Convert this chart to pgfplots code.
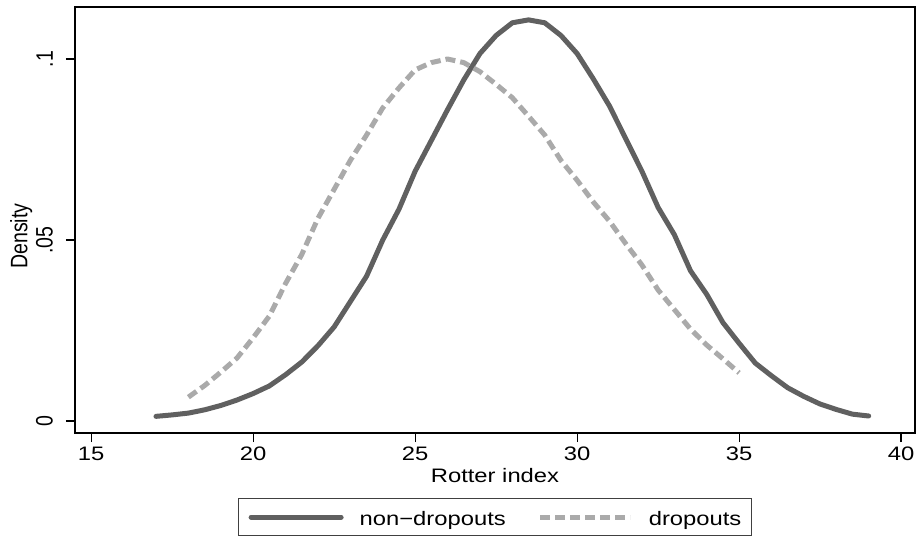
\documentclass[border=0pt]{standalone}
\usepackage{pgfplots}
\pgfplotsset{compat=1.18}
\usepackage{fontspec}
\setmainfont[FakeStretch=1.22]{Liberation Sans}
\newfontfamily\rotfont[FakeStretch=0.82]{Liberation Sans}
\newcommand\normfont{\fontsize{19.5}{23}\selectfont}
\newcommand\rfont{\rotfont\fontsize{23.8}{28}\selectfont}
\definecolor{dk}{RGB}{96,96,96}
\definecolor{lt}{RGB}{170,170,170}
\begin{document}
\begin{tikzpicture}
\path[use as bounding box] (-75pt,-103pt) rectangle (841pt,433pt);
\begin{axis}[
  at={(0pt,0pt)}, anchor=south west,
  scale only axis, width=840pt, height=426pt,
  xmin=14.5, xmax=40.43, ymin=-0.0033, ymax=0.11436,
  xtick={15,20,25,30,35,40},
  ytick={0,0.05,0.1}, yticklabels={0,.05,.1},
  xtick pos=bottom, ytick pos=left,
  tick align=outside, major tick length=9pt,
  tick style={line width=1.2pt, black},
  axis line style={line width=1.5pt, black},
  /pgf/number format/assume math mode=true,
  xticklabel style={font=\normfont, anchor=north, inner xsep=0pt, inner ysep=5pt},
  yticklabel style={font=\rfont, rotate=90, anchor=south, inner xsep=0pt, inner ysep=13pt},
  xlabel={Rotter index}, ylabel={Density},
  xlabel style={font=\normfont, at={(axis description cs:0.5,-0.0822)}, anchor=north, inner sep=0pt},
  ylabel style={font=\rfont, at={(axis description cs:-0.0774,0.4624)}, anchor=north, rotate=0, inner sep=0pt},
  legend columns=2,
  legend style={at={(axis description cs:0.5,-0.1526)}, anchor=north,
    draw=black!75, line width=1.2pt, inner xsep=10pt, inner ysep=6.5pt,
    font=\normfont,
    nodes={inner sep=0pt, text height=20pt, text depth=4pt, anchor=base west},
    /tikz/every odd column/.append style={column sep=16pt},
    /tikz/every even column/.append style={column sep=32pt}},
  legend image code/.code={\draw[#1] (0pt,8pt) -- (90pt,8pt);},
]
\addplot[dk, line width=5pt, line join=round, line cap=round] coordinates {
(17.0,0.0013) (17.5,0.0017) (18.0,0.0022) (18.5,0.0031) (19.0,0.0043)
(19.5,0.0058) (20.0,0.0076) (20.5,0.0097) (21.0,0.0128) (21.5,0.0163)
(22.0,0.0208) (22.5,0.0260) (23.0,0.0330) (23.5,0.0400) (24.0,0.0500)
(24.5,0.0585) (25.0,0.0690) (25.5,0.0775) (26.0,0.0860) (26.5,0.0942)
(27.0,0.1015) (27.5,0.1065) (28.0,0.1100) (28.5,0.1108) (29.0,0.1100)
(29.5,0.1065) (30.0,0.1015) (30.5,0.0945) (31.0,0.0870) (31.5,0.0780)
(32.0,0.0690) (32.5,0.0590) (33.0,0.0515) (33.5,0.0415) (34.0,0.0350)
(34.5,0.0272) (35.0,0.0215) (35.5,0.0160) (36.0,0.0125) (36.5,0.0092)
(37.0,0.0068) (37.5,0.0047) (38.0,0.0032) (38.5,0.0019) (39.0,0.0014)
};
\addlegendentry{non−dropouts}
\addplot[lt, line width=5pt, line join=round, dash pattern=on 10pt off 5pt] coordinates {
(18.0,0.0066) (18.5,0.0098) (19.0,0.0135) (19.5,0.0174) (20.0,0.0230)
(20.5,0.0290) (21.0,0.0380) (21.5,0.0460) (22.0,0.0560) (22.5,0.0640)
(23.0,0.0720) (23.5,0.0790) (24.0,0.0865) (24.5,0.0920) (25.0,0.0970)
(25.5,0.0990) (26.0,0.1000) (26.5,0.0990) (27.0,0.0965) (27.5,0.0930)
(28.0,0.0893) (28.5,0.0842) (29.0,0.0790) (29.5,0.0720) (30.0,0.0665)
(30.5,0.0605) (31.0,0.0552) (31.5,0.0490) (32.0,0.0431) (32.5,0.0362)
(33.0,0.0308) (33.5,0.0254) (34.0,0.0210) (34.5,0.0172) (35.0,0.0133)
};
\addlegendentry{dropouts}
\end{axis}
\end{tikzpicture}
\end{document}
